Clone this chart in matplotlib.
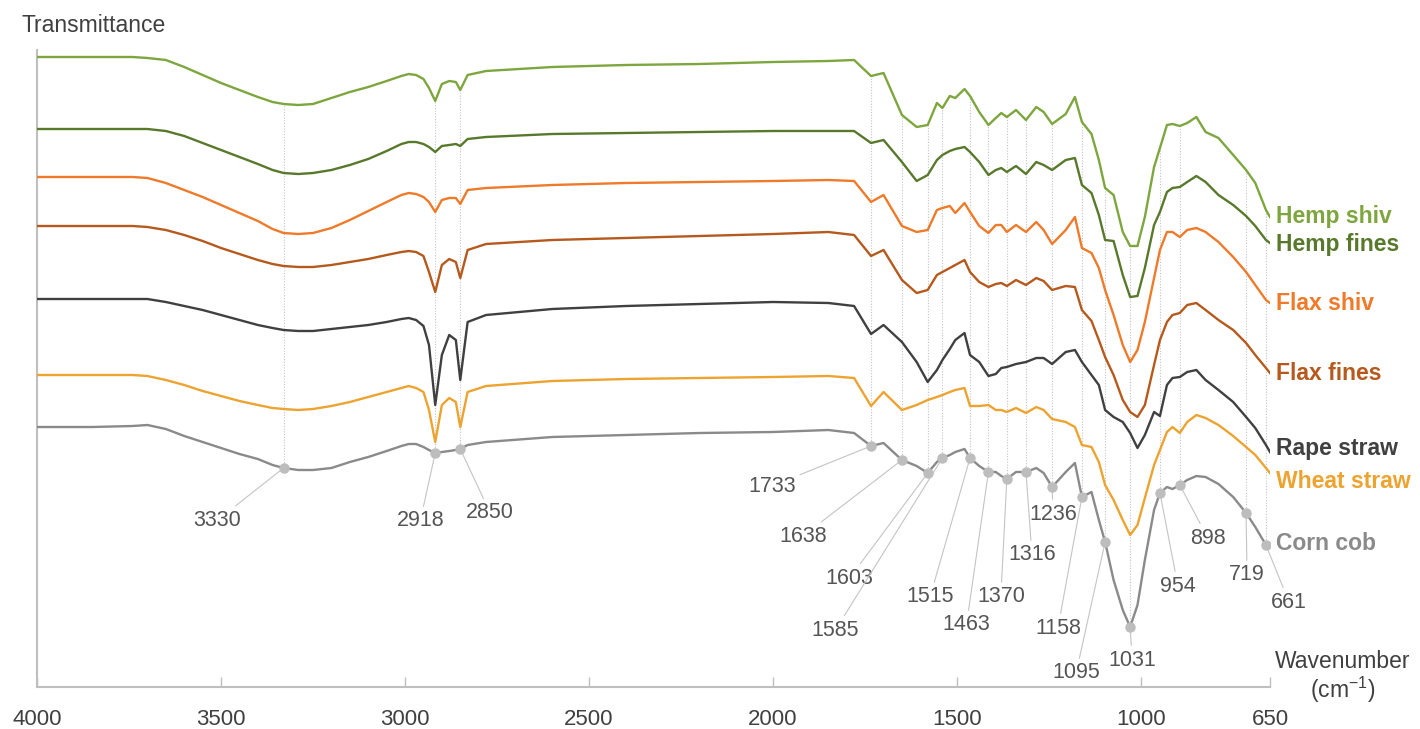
import numpy as np
import matplotlib.pyplot as plt

plt.rcParams['font.family'] = ['Liberation Sans', 'DejaVu Sans']
plt.rcParams['mathtext.fontset'] = 'custom'
plt.rcParams['mathtext.rm'] = 'Liberation Sans'
plt.rcParams['mathtext.it'] = 'Liberation Sans:italic'

# wavenumber grid (cm-1)
wavenumber = [4000, 3850, 3740, 3700, 3650, 3600, 3550, 3500, 3450, 3400,
              3360, 3330, 3290, 3250, 3200, 3150, 3100, 3050, 3010, 2990,
              2970, 2950,
              2935, 2918, 2900, 2880, 2862, 2850, 2830, 2780,
              2600, 2400, 2200, 2000, 1850, 1780, 1734, 1700, 1650, 1610,
              1580, 1555, 1540, 1520, 1505, 1480, 1465, 1440, 1415, 1395,
              1380, 1365, 1340, 1313, 1285, 1265, 1242, 1205, 1180, 1161,
              1135, 1115, 1098, 1075, 1050, 1030, 1010, 990, 965, 949,
              930, 915, 895, 875, 850, 825, 790, 750, 715, 690, 661, 650]

# stacked transmittance (arbitrary units, offset spectra)
hemp_shiv = [630, 630, 630, 629, 627, 620, 612, 604, 597, 590,
             585, 583, 582, 583, 589, 595, 600, 606, 611, 613,
             612, 608,
             599, 586, 603, 606, 605, 597, 612, 616,
             620, 622, 623, 625, 626, 627, 611, 614, 572, 560,
             562, 584, 579, 591, 589, 598, 591, 575, 562, 569,
             574, 570, 577, 567, 580, 575, 563, 573, 590, 565,
             553, 527, 499, 492, 455, 441, 441, 470, 520, 539,
             562, 563, 561, 564, 570, 555, 549, 532, 517, 504, 477, 470]
hemp_fines = [558, 558, 558, 558, 556, 551, 544, 537, 530, 523,
              517, 514, 513, 514, 517, 522, 528, 536, 543, 545,
              545, 543,
              540, 535, 541, 542, 543, 541, 548, 550,
              553, 554, 555, 556, 556, 556, 544, 547, 525, 506,
              512, 527, 532, 536, 538, 540, 535, 525, 512, 517,
              519, 515, 521, 513, 525, 522, 517, 527, 529, 502,
              494, 472, 447, 446, 412, 390, 391, 419, 462, 475,
              495, 499, 500, 505, 511, 505, 492, 482, 471, 461, 447, 444]
flax_shiv = [510, 510, 510, 509, 504, 497, 490, 482, 474, 466,
             458, 454, 453, 454, 459, 467, 476, 485, 492, 494,
             493, 490,
             485, 475, 487, 489, 489, 483, 497, 499,
             502, 504, 505, 506, 507, 506, 485, 492, 461, 455,
             457, 477, 479, 481, 474, 484, 475, 461, 454, 462,
             462, 455, 462, 455, 465, 457, 443, 457, 470, 439,
             434, 419, 397, 372, 342, 325, 337, 365, 409, 437,
             455, 455, 450, 457, 459, 455, 445, 430, 415, 402, 387, 384]
flax_fines = [461, 461, 461, 460, 457, 452, 446, 439, 433, 427,
              423, 421, 420, 420, 422, 425, 428, 432, 435, 436,
              435, 431,
              415, 395, 422, 428, 425, 409, 437, 443,
              447, 449, 451, 453, 455, 452, 431, 437, 407, 394,
              397, 412, 415, 419, 422, 427, 415, 405, 400, 403,
              404, 401, 407, 402, 409, 406, 397, 401, 400, 377,
              366, 347, 330, 312, 287, 275, 270, 282, 322, 347,
              365, 372, 374, 382, 384, 377, 367, 357, 344, 332, 319, 314]
rape_straw = [388, 388, 388, 388, 385, 381, 377, 372, 367, 362,
              359, 357, 356, 356, 358, 360, 362, 365, 368, 369,
              367, 361,
              342, 282, 332, 352, 347, 307, 365, 372,
              378, 381, 383, 385, 384, 381, 353, 362, 345, 325,
              305, 317, 327, 338, 347, 354, 332, 325, 311, 313,
              319, 320, 323, 325, 329, 329, 323, 335, 337, 325,
              312, 302, 277, 270, 265, 254, 239, 252, 275, 271,
              302, 309, 310, 315, 317, 307, 297, 285, 270, 259, 242, 235]
wheat_straw = [312, 312, 312, 311, 307, 302, 296, 291, 286, 282,
               279, 278, 277, 278, 281, 285, 290, 295, 299, 301,
               299, 295,
               277, 245, 282, 289, 285, 260, 295, 301,
               306, 308, 309, 310, 311, 309, 281, 295, 277, 282,
               287, 290, 292, 295, 297, 299, 281, 281, 282, 277,
               277, 275, 279, 274, 280, 277, 268, 265, 260, 242,
               240, 225, 202, 187, 167, 152, 162, 189, 222, 237,
               255, 260, 254, 265, 272, 269, 262, 251, 240, 232, 219, 214]
corn_cob = [260, 260, 261, 262, 258, 251, 245, 239, 233, 228,
            222, 219, 217, 217, 219, 225, 230, 236, 241, 243,
            243, 240,
            237, 234, 235, 236, 237, 238, 242, 245,
            250, 252, 254, 255, 257, 254, 241, 244, 227, 221,
            214, 225, 229, 232, 235, 238, 229, 221, 215, 215,
            211, 208, 215, 215, 219, 214, 200, 215, 224, 190,
            195, 167, 145, 107, 77, 60, 82, 127, 177, 194,
            200, 198, 202, 207, 211, 210, 203, 190, 174, 160, 142, 139]

names = ["Hemp shiv", "Hemp fines", "Flax shiv", "Flax fines",
         "Rape straw", "Wheat straw", "Corn cob"]
spectra = [hemp_shiv, hemp_fines, flax_shiv, flax_fines,
           rape_straw, wheat_straw, corn_cob]
colors = ["#7DA63E", "#58792B", "#EE7A2A", "#B6591D",
          "#404040", "#EDA330", "#8A8A8A"]
name_dy = [0, -1, 0, 0, 3, -8, 5]

# band positions marked on the corn cob spectrum
peak_text = ["3330", "2918", "2850", "1733", "1638", "1603", "1585", "1515",
             "1463", "1370", "1316", "1236", "1158", "1095", "1031", "954",
             "898", "719", "661"]
peak_wn = [3330, 2918, 2850, 1734, 1650, 1580, 1540, 1465, 1415, 1365,
           1313, 1242, 1161, 1098, 1030, 949, 895, 715, 661]
label_offsets = [(-66, -52), (-15, -68), (30, -64), (-99, -40), (-99, -76),
                 (-78, -105), (-107, -172), (-40, -139), (-22, -153),
                 (-6, -118), (6, -83), (1, -27), (-24, -131), (-29, -131),
                 (2, -33), (18, -93), (28, -53), (1, -62), (23, -57)]

fig = plt.figure(figsize=(14.2, 7.29), dpi=100)
ax = fig.add_axes([37 / 1420, 42 / 729, 1233 / 1420, 637 / 729])

wn = np.array(wavenumber)
for yv, c in zip(spectra, colors):
    ax.plot(wn, yv, color=c, lw=1.7, solid_joinstyle='round', zorder=3)

# dotted guide lines from the bottom spectrum to the top one
for p in peak_wn:
    y0 = np.interp(p, wn[::-1], np.array(corn_cob)[::-1])
    y1 = np.interp(p, wn[::-1], np.array(hemp_shiv)[::-1])
    ax.plot([p, p], [y0, y1], color="#C4C4C4", lw=0.8, ls=(0, (1, 1.5)), zorder=1)

for txt, p, off in zip(peak_text, peak_wn, label_offsets):
    y0 = np.interp(p, wn[::-1], np.array(corn_cob)[::-1])
    ax.plot(p, y0, 'o', color="#BDBDBD", ms=6.5, zorder=4)
    ax.annotate(txt, xy=(p, y0), xytext=off, textcoords='offset pixels',
                ha='center', va='center', fontsize=15.5, color="#555555",
                arrowprops=dict(arrowstyle='-', color="#C4C4C4", lw=0.8,
                                shrinkA=1, shrinkB=3),
                annotation_clip=False)

for name, yv, c, dy in zip(names, spectra, colors, name_dy):
    ax.annotate(name, xy=(650, yv[-1]), xytext=(6, dy), textcoords='offset pixels',
                ha='left', va='center', fontsize=16.5, fontweight='bold',
                color=c, annotation_clip=False)

ax.set_xlim(4000, 650)
ax.set_ylim(0, 637)
ax.set_xticks([4000, 3500, 3000, 2500, 2000, 1500, 1000, 650])
ax.set_yticks([])
ax.tick_params(axis='x', direction='in', length=7, width=1, color="#BFBFBF",
               labelsize=16, labelcolor="#404040", pad=16)
for s in ['top', 'right']:
    ax.spines[s].set_visible(False)
for s in ['left', 'bottom']:
    ax.spines[s].set_color("#BFBFBF")
    ax.spines[s].set_linewidth(1.5)

fig.text(22 / 1420, 1 - 25 / 729, "Transmittance", fontsize=16.5, color="#404040",
         ha='left', va='center')
fig.text(1343 / 1420, 1 - 662 / 729, "Wavenumber", fontsize=16.5, color="#404040",
         ha='center', va='center')
fig.text(1343 / 1420, 1 - 690 / 729, "(cm$^{-1}$)", fontsize=16.5, color="#404040",
         ha='center', va='center')

fig.savefig("out.png", dpi=100)
